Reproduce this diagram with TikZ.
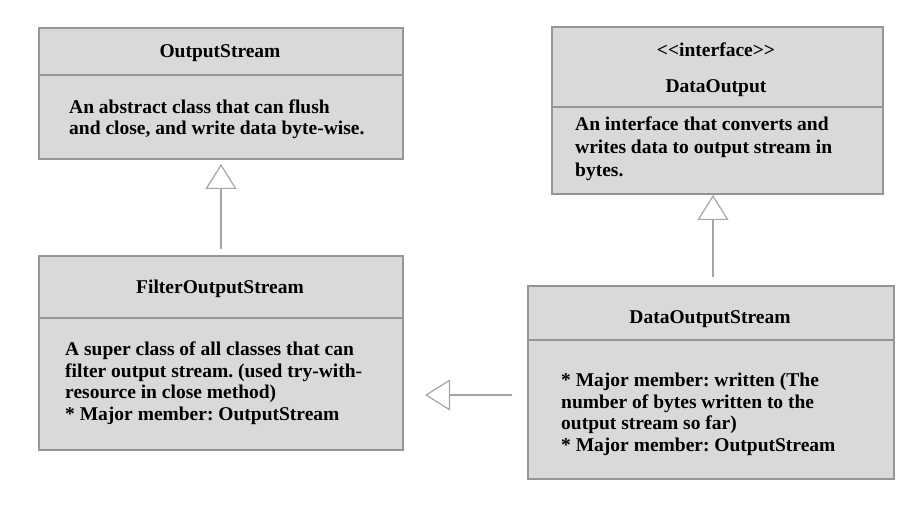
\documentclass[tikz,border=0pt]{standalone}
\usepackage{fontspec}
\setmainfont{Liberation Serif}
\usetikzlibrary{arrows.meta}
\frenchspacing
\definecolor{boxfill}{RGB}{217,217,217}
\definecolor{boxline}{RGB}{150,150,150}
\definecolor{arrowline}{RGB}{165,165,165}
\tikzset{
  classbox/.style={draw=boxline, line width=2pt, fill=boxfill, inner sep=0pt, anchor=north west},
  divider/.style={draw=boxline, line width=2pt},
  ctitle/.style={font=\fontsize{19.5}{21.5}\selectfont\bfseries, anchor=base, inner sep=0pt},
  cbody/.style={font=\fontsize{19.5}{21.5}\selectfont\bfseries, anchor=base west, align=left, inner sep=0pt},
  inherit/.style={draw=arrowline, line width=2pt, -{Triangle[open, length=25pt, width=31pt, line width=1.2pt]}}
}
\begin{document}
\begin{tikzpicture}[x=1pt, y=-1pt]
\useasboundingbox (0,0) rectangle (922,508);
% class boxes
\node[classbox, minimum width=364pt, minimum height=131pt] (OS) at (38,27) {};
\node[classbox, minimum width=364pt, minimum height=194pt] (FOS) at (38,255) {};
\node[classbox, minimum width=331pt, minimum height=167pt] (DO) at (551,26) {};
\node[classbox, minimum width=366pt, minimum height=193pt] (DOS) at (527,285) {};
\draw[divider] (38,75) -- (402,75);
\draw[divider] (38,318) -- (402,318);
\draw[divider] (551,107) -- (882,107);
\draw[divider] (527,340) -- (893,340);
% titles
\node[ctitle] (OStitle) at (220,58) {OutputStream};
\node[ctitle] (FOStitle) at (220,294) {FilterOutputStream};
\node[ctitle] (DOstereo) at (716,57) {{<}{<}interface{>}{>}};
\node[ctitle] (DOtitle) at (716,93) {DataOutput};
\node[ctitle] (DOStitle) at (710,323) {DataOutputStream};
% texts (placed by the baseline of their last line)
\node[cbody] (OSbody) at (69,135) {An abstract class that can flush\\and close, and write data byte-wise.};
\node[cbody] (FOSbody) at (65,420) {A super class of all classes that can\\filter output stream. (used try-with-\\resource in close method)\\* Major member: OutputStream};
\node[cbody, font=\fontsize{19.5}{23}\selectfont\bfseries] (DObody) at (575,177) {An interface that converts and\\writes data to output stream in\\bytes.};
\node[cbody] (DOSbody) at (561,451) {* Major member: written (The\\number of bytes written to the\\output stream so far)\\* Major member: OutputStream};
% inheritance
\draw[inherit, shorten <=6pt, shorten >=4pt] (FOS.north) -- (OS.south);
\draw[inherit, shorten <=8pt] ([xshift=2pt]DOS.north) -- ([xshift=2pt]DOS.north |- DO.south);
\draw[inherit, shorten <=15pt, shorten >=21pt] ([yshift=-12.5pt]DOS.west) -- ([yshift=-12.5pt]DOS.west -| FOS.east);
\end{tikzpicture}
\end{document}
